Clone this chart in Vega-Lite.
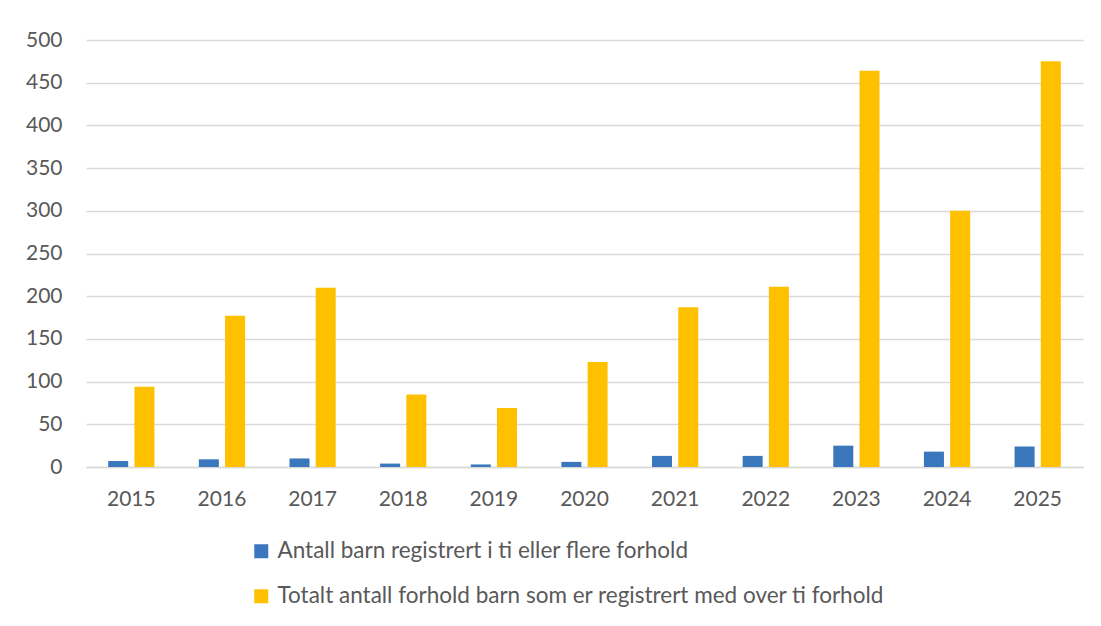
{
  "$schema": "https://vega.github.io/schema/vega-lite/v6.json",
  "autosize": "none",
  "width": 997,
  "height": 427,
  "padding": {"left": 86, "top": 40, "right": 18, "bottom": 159},
  "background": "white",
  "config": {
    "view": {"stroke": null},
    "font": "Lato",
    "axis": {"labelFont": "Lato", "labelColor": "#595959", "labelFontSize": 21}
  },
  "data": {
    "values": [
      {"year": "2015", "series": "Antall barn registrert i ti eller flere forhold", "value": 7},
      {"year": "2016", "series": "Antall barn registrert i ti eller flere forhold", "value": 9},
      {"year": "2017", "series": "Antall barn registrert i ti eller flere forhold", "value": 10},
      {"year": "2018", "series": "Antall barn registrert i ti eller flere forhold", "value": 4},
      {"year": "2019", "series": "Antall barn registrert i ti eller flere forhold", "value": 3},
      {"year": "2020", "series": "Antall barn registrert i ti eller flere forhold", "value": 6},
      {"year": "2021", "series": "Antall barn registrert i ti eller flere forhold", "value": 13},
      {"year": "2022", "series": "Antall barn registrert i ti eller flere forhold", "value": 13},
      {"year": "2023", "series": "Antall barn registrert i ti eller flere forhold", "value": 25},
      {"year": "2024", "series": "Antall barn registrert i ti eller flere forhold", "value": 18},
      {"year": "2025", "series": "Antall barn registrert i ti eller flere forhold", "value": 24},
      {"year": "2015", "series": "Totalt antall forhold barn som er registrert med over ti forhold", "value": 94},
      {"year": "2016", "series": "Totalt antall forhold barn som er registrert med over ti forhold", "value": 177},
      {"year": "2017", "series": "Totalt antall forhold barn som er registrert med over ti forhold", "value": 210},
      {"year": "2018", "series": "Totalt antall forhold barn som er registrert med over ti forhold", "value": 85},
      {"year": "2019", "series": "Totalt antall forhold barn som er registrert med over ti forhold", "value": 69},
      {"year": "2020", "series": "Totalt antall forhold barn som er registrert med over ti forhold", "value": 123},
      {"year": "2021", "series": "Totalt antall forhold barn som er registrert med over ti forhold", "value": 187},
      {"year": "2022", "series": "Totalt antall forhold barn som er registrert med over ti forhold", "value": 211},
      {"year": "2023", "series": "Totalt antall forhold barn som er registrert med over ti forhold", "value": 464},
      {"year": "2024", "series": "Totalt antall forhold barn som er registrert med over ti forhold", "value": 300},
      {"year": "2025", "series": "Totalt antall forhold barn som er registrert med over ti forhold", "value": 475}
    ]
  },
  "mark": {"type": "bar"},
  "encoding": {
    "x": {
      "field": "year",
      "type": "nominal",
      "scale": {"paddingInner": 0.49, "paddingOuter": 0.245},
      "axis": {
        "title": null,
        "labelAngle": 0,
        "ticks": false,
        "labelPadding": 21,
        "domainColor": "#D9D9D9",
        "domainWidth": 1.5
      }
    },
    "xOffset": {
      "field": "series",
      "type": "nominal",
      "scale": {"paddingInner": 0.237, "paddingOuter": 0}
    },
    "y": {
      "field": "value",
      "type": "quantitative",
      "scale": {"domain": [0, 500], "nice": false},
      "axis": {
        "title": null,
        "values": [0, 50, 100, 150, 200, 250, 300, 350, 400, 450, 500],
        "domain": false,
        "ticks": false,
        "labelPadding": 24,
        "gridColor": "#D9D9D9",
        "gridWidth": 1.3
      }
    },
    "color": {
      "field": "series",
      "type": "nominal",
      "scale": {
        "domain": [
          "Antall barn registrert i ti eller flere forhold",
          "Totalt antall forhold barn som er registrert med over ti forhold"
        ],
        "range": ["#3A77BD", "#FFC000"]
      },
      "legend": {
        "title": null,
        "orient": "none",
        "direction": "vertical",
        "legendX": 164,
        "legendY": 500,
        "symbolType": "square",
        "symbolSize": 196,
        "symbolStrokeWidth": 0,
        "symbolOpacity": 1,
        "labelFont": "Lato",
        "labelFontSize": 22.5,
        "labelColor": "#595959",
        "labelOffset": 5,
        "rowPadding": 22,
        "labelLimit": 900
      }
    }
  }
}
